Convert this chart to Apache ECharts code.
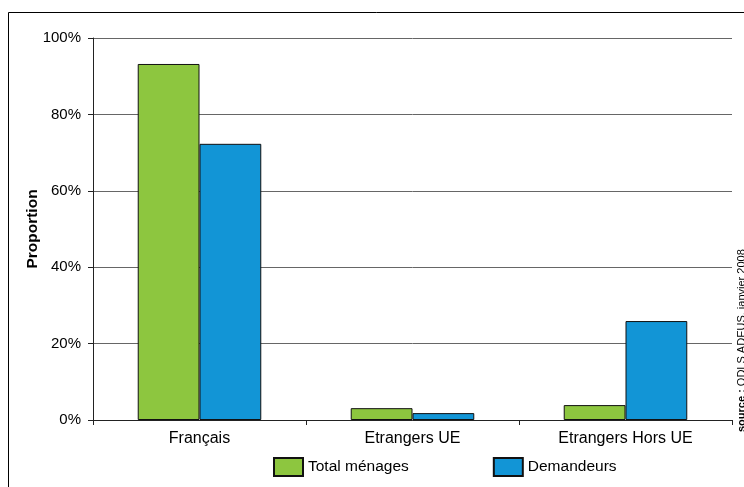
<!DOCTYPE html>
<html>
<head>
<meta charset="utf-8">
<script src="https://cdn.jsdelivr.net/npm/echarts@6/dist/echarts.min.js"></script>
<style>
  html, body { margin: 0; padding: 0; background: #fff; }
  #chart { width: 744px; height: 487px; }
</style>
</head>
<body>
<div id="chart"></div>
<script>
// Nationality groups and share of each group (%)
const categories = ['Français', 'Etrangers UE', 'Etrangers Hors UE'];
const totalMenages = [93.2, 3.1, 3.9];
const demandeurs = [72.3, 1.8, 25.9];
const yTicks = [0, 20, 40, 60, 80, 100];

const chart = echarts.init(document.getElementById('chart'), null, { renderer: 'canvas' });
const font = 'Liberation Sans, Arial, sans-serif';

chart.setOption({
  backgroundColor: '#fff',
  animation: false,
  grid: { left: 93, right: 12, top: 38, bottom: 67 },
  legend: {
    left: 273,
    top: 457,
    padding: 0,
    icon: 'rect',
    itemWidth: 29,
    itemHeight: 18,
    itemGap: 84,
    textStyle: { fontFamily: font, fontSize: 15.5, color: '#000' },
    data: ['Total ménages', 'Demandeurs']
  },
  xAxis: {
    type: 'category',
    data: categories,
    axisLine: { lineStyle: { color: '#222', width: 1 } },
    axisTick: { show: true, length: 5, lineStyle: { color: '#222' } },
    axisLabel: { margin: 11, fontFamily: font, fontSize: 16, color: '#000' }
  },
  yAxis: {
    type: 'value',
    min: yTicks[0],
    max: yTicks[yTicks.length - 1],
    interval: 20,
    name: 'Proportion',
    nameLocation: 'middle',
    nameGap: 52,
    nameMoveOverlap: false,
    nameTextStyle: { fontFamily: font, fontSize: 15.5, fontWeight: 'bold', color: '#000' },
    axisLine: { show: true, lineStyle: { color: '#222', width: 1 } },
    axisTick: { show: true, length: 5, lineStyle: { color: '#222' } },
    axisLabel: { margin: 12, fontFamily: font, fontSize: 15, color: '#000', formatter: '{value}%' },
    splitLine: { show: true, lineStyle: { color: '#666', width: 1 } }
  },
  series: [
    {
      name: 'Total ménages',
      type: 'bar',
      data: totalMenages,
      barGap: '0%',
      barCategoryGap: '42%',
      itemStyle: { color: '#8DC63F', borderColor: '#111', borderWidth: 1 }
    },
    {
      name: 'Demandeurs',
      type: 'bar',
      data: demandeurs,
      itemStyle: { color: '#1295D6', borderColor: '#111', borderWidth: 1 }
    }
  ],
  graphic: [
    {
      type: 'rect',
      shape: { x: 8.5, y: 12.5, width: 800, height: 600 },
      style: { fill: 'none', stroke: '#000', lineWidth: 1 },
      silent: true
    },
    {
      type: 'text',
      x: 742,
      y: 432,
      rotation: Math.PI / 2,
      style: {
        text: '{b|source :} ODLS ADEUS, janvier 2008',
        fontFamily: font,
        fontSize: 11,
        fill: '#000',
        align: 'left',
        verticalAlign: 'middle',
        rich: { b: { fontWeight: 'bold', fontFamily: font, fontSize: 11 } }
      }
    }
  ]
});
</script>
</body>
</html>
